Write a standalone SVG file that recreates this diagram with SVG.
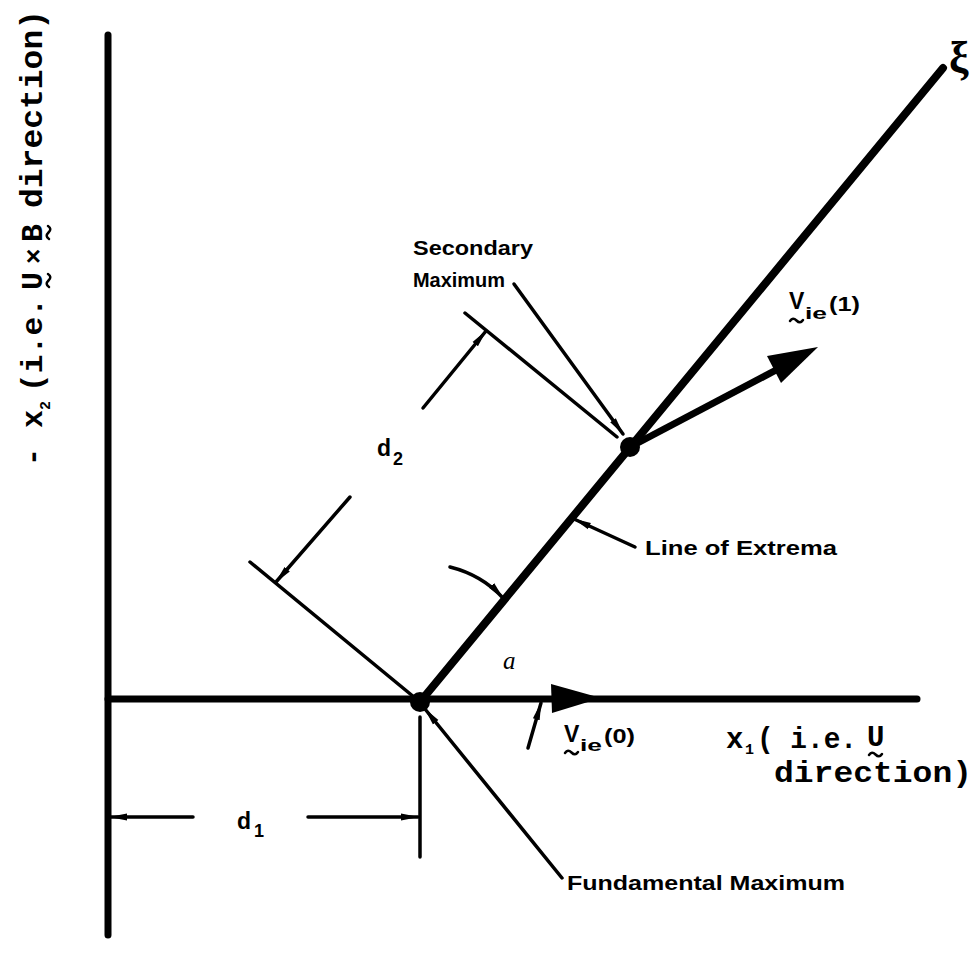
<svg xmlns="http://www.w3.org/2000/svg" width="975" height="968" viewBox="0 0 975 968">
<style>
.ax{stroke:#000;stroke-width:7;fill:none;stroke-linecap:round}
.th{stroke:#000;stroke-width:3.5;fill:none;stroke-linecap:round}
.mk{stroke:#000;stroke-width:3.5;fill:none;stroke-linecap:round;marker-end:url(#ah)}
.tl{stroke:#000;stroke-width:2.5;fill:none;stroke-linecap:round}
.lb{font-family:"Liberation Sans",Arial,sans-serif;font-weight:bold;fill:#000}
.mo{font-family:"Liberation Mono","Courier New",monospace;font-weight:bold;fill:#000}
</style>
<defs>
<marker id="ah" viewBox="0 0 18 10" refX="17" refY="5" markerWidth="18" markerHeight="10" markerUnits="userSpaceOnUse" orient="auto">
<path d="M0,1.5 L18,5 L0,8.5 z" fill="#000"/>
</marker>
<path id="tilde" d="M0,2 C2,-1 4,-1 6.5,1.5 S11,4 13,1"/>
</defs>
<rect width="975" height="968" fill="#fff"/>

<g id="axes">
<line class="ax" x1="108" y1="35" x2="108" y2="935"/>
<line class="ax" x1="108" y1="699" x2="917" y2="699" stroke-width="8"/>
</g>

<g id="connectors">
<line x1="420" y1="702" x2="943" y2="68" stroke="#000" stroke-width="8" stroke-linecap="round"/>
<line x1="630" y1="447" x2="778" y2="369" stroke="#000" stroke-width="7"/>
<polygon points="818,347 767,356 781,383" fill="#000"/>
<polygon points="551,684 552,713 601,698" fill="#000"/>
<line class="mk" x1="528" y1="748" x2="541" y2="703" stroke-width="4"/>
<line class="th" x1="250" y1="562" x2="420" y2="702"/>
<line class="th" x1="465" y1="313" x2="617" y2="437"/>
<line class="mk" x1="350" y1="497" x2="276" y2="582"/>
<line class="mk" x1="423" y1="408" x2="486" y2="331"/>
<path class="mk" d="M450,567 Q482,575 503,598" stroke-width="4"/>
<line class="mk" x1="635" y1="547" x2="574" y2="519"/>
<line class="mk" x1="514" y1="284" x2="623" y2="434"/>
<line class="mk" x1="562" y1="878" x2="425" y2="709"/>
<line class="th" x1="420" y1="717" x2="420" y2="857" stroke-width="3"/>
<line class="mk" x1="193" y1="817" x2="110" y2="817"/>
<line class="mk" x1="308" y1="817" x2="418" y2="817"/>
</g>

<g id="fundamental-max">
<circle cx="420" cy="702" r="10" fill="#000"/>
<text class="lb" x="567" y="890" font-size="21" textLength="278" lengthAdjust="spacingAndGlyphs">Fundamental Maximum</text>
</g>

<g id="secondary-max">
<circle cx="630" cy="447" r="10" fill="#000"/>
<text class="lb" x="413" y="255" font-size="21" textLength="120" lengthAdjust="spacingAndGlyphs">Secondary</text>
<text class="lb" x="413" y="287" font-size="21" textLength="92" lengthAdjust="spacingAndGlyphs">Maximum</text>
</g>

<g id="line-of-extrema">
<text class="lb" x="645" y="555" font-size="21" textLength="192" lengthAdjust="spacingAndGlyphs">Line of Extrema</text>
</g>

<g id="xi">
<text x="949" y="72" font-family="Liberation Serif,serif" font-weight="bold" font-size="44">ξ</text>
</g>

<g id="d2-label">
<text class="lb" x="377" y="456" font-size="23">d</text>
<text class="lb" x="393" y="465" font-size="18">2</text>
</g>

<g id="d1-label">
<text class="lb" x="237" y="829" font-size="23">d</text>
<text class="lb" x="254" y="837" font-size="18">1</text>
</g>

<g id="alpha">
<text x="503" y="669" font-family="Liberation Serif,serif" font-style="italic" font-size="25">a</text>
</g>

<g id="vie1">
<text class="lb" x="789" y="309" font-size="23">V</text>
<use href="#tilde" class="tl" x="790" y="319"/>
<text class="lb" x="805" y="319" font-size="17" textLength="22" lengthAdjust="spacingAndGlyphs">ie</text>
<text class="lb" x="829" y="311" font-size="20" textLength="31" lengthAdjust="spacingAndGlyphs">(1)</text>
</g>

<g id="vie0">
<text class="lb" x="564" y="742" font-size="23">V</text>
<use href="#tilde" class="tl" x="565" y="751"/>
<text class="lb" x="580" y="751" font-size="17" textLength="22" lengthAdjust="spacingAndGlyphs">ie</text>
<text class="lb" x="604" y="743" font-size="20" textLength="31" lengthAdjust="spacingAndGlyphs">(0)</text>
</g>

<g id="x1-label">
<text class="mo" x="726" y="748" font-size="29">x</text>
<text class="mo" x="745" y="754" font-size="15">1</text>
<text class="mo" x="757" y="748" font-size="29" textLength="100" lengthAdjust="spacingAndGlyphs">( i.e.</text>
<text class="mo" x="867" y="746" font-size="29">U</text>
<use href="#tilde" class="tl" x="869" y="753"/>
<text class="mo" x="774" y="782" font-size="29" textLength="198" lengthAdjust="spacingAndGlyphs">direction)</text>
</g>

<g id="x2-label" transform="rotate(-90)">
<text class="mo" x="-466" y="42" font-size="30">-</text>
<text class="mo" x="-428" y="42" font-size="30">x</text>
<text class="mo" x="-410" y="50" font-size="15">2</text>
<text class="mo" x="-392" y="42" font-size="30" textLength="94" lengthAdjust="spacingAndGlyphs">(i.e.</text>
<text class="mo" x="-290" y="42" font-size="30">U</text>
<use href="#tilde" class="tl" x="-287" y="47"/>
<text class="mo" x="-264" y="42" font-size="26">×</text>
<text class="mo" x="-242" y="42" font-size="30">B</text>
<use href="#tilde" class="tl" x="-239" y="47"/>
<text class="mo" x="-208" y="42" font-size="31" textLength="198" lengthAdjust="spacingAndGlyphs">direction)</text>
</g>
</svg>
